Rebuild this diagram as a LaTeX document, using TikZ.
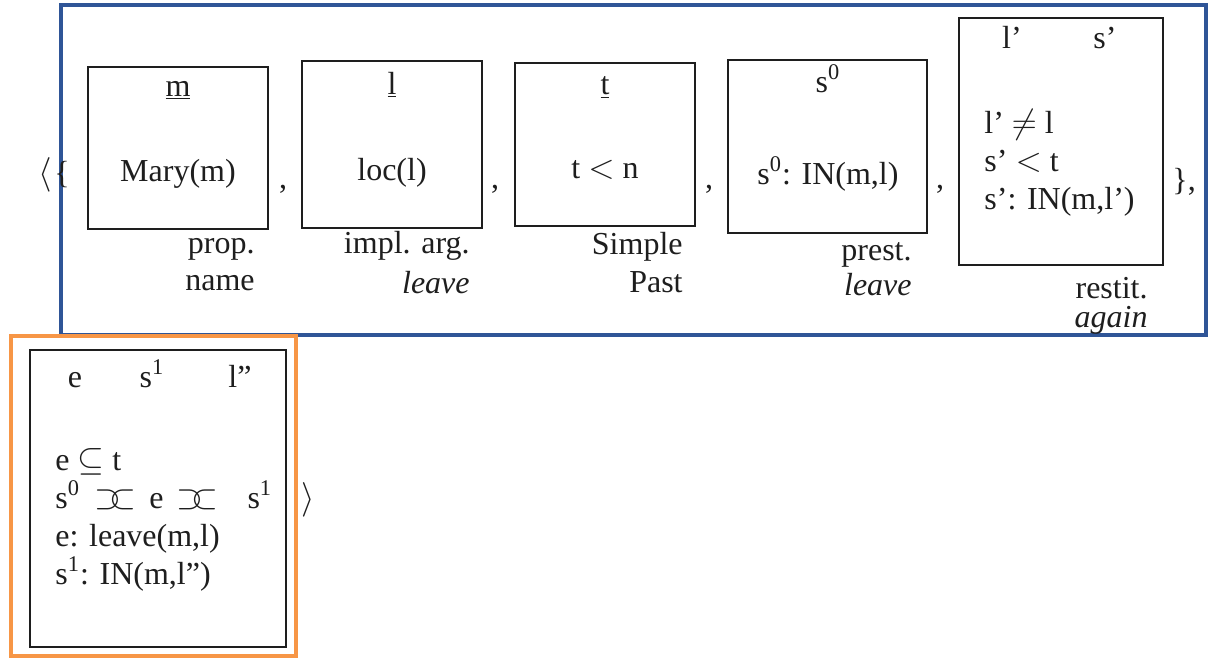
\documentclass[tikz,border=0pt]{standalone}
\usepackage{fontspec}
\setmainfont{Liberation Serif}
\usetikzlibrary{fit}
\definecolor{dblue}{RGB}{47,85,151}
\definecolor{dorange}{RGB}{247,150,70}
\definecolor{ink}{RGB}{30,30,30}
\newcommand{\abut}{\ensuremath{\supset\mkern-6mu\subset}}
\begin{document}
\begin{tikzpicture}[x=0.5pt,y=-0.5pt,
  font=\fontsize{16}{19}\selectfont, text=ink,
  box/.style={draw=ink, line width=0.9pt, inner sep=0pt},
  frame/.style={line width=2pt, inner sep=0pt},
  txt/.style={anchor=base, inner sep=0pt},
  lft/.style={anchor=base west, inner sep=0pt},
  rgt/.style={anchor=base east, inner sep=0pt}]
\useasboundingbox (0,0) rectangle (1209,660);
% frames
\node[frame, draw=dblue, fit={(61,5)(1206,335)}] (blue) {};
\node[frame, draw=dorange, fit={(11,336)(296,656)}] (orange) {};
% outer brackets
\node[txt] (lang) at (45,183) {$\langle$};
\node[txt] (lbr) at (62,183) {\{};
% box 1
\node[box, fit={(88,67)(268,229)}] (b1) {};
\node[txt] (b1v) at (178,96) {\underline{m}};
\node[txt] (b1c) at (178,181) {Mary(m)};
\node[rgt] (b1a) at (255,253) {prop.};
\node[rgt] (b1b) at (255,290) {name};
\node[txt] (c1) at (283,188) {,};
% box 2
\node[box, fit={(302,61)(482,228)}] (b2) {};
\node[txt] (b2v) at (392,94) {\underline{l}};
\node[txt] (b2c) at (392,180) {loc(l)};
\node[rgt] (b2a) at (470,253) {impl. arg.};
\node[rgt] (b2b) at (470,293) {\itshape leave};
\node[txt] (c2) at (495,188) {,};
% box 3
\node[box, fit={(515,63)(695,226)}] (b3) {};
\node[txt] (b3v) at (605,94) {\underline{t}};
\node[txt] (b3c) at (605,178) {t $<$ n};
\node[rgt] (b3a) at (683,254) {Simple};
\node[rgt] (b3b) at (683,292) {Past};
\node[txt] (c3) at (709,188) {,};
% box 4
\node[box, fit={(728,60)(927,233)}] (b4) {};
\node[txt] (b4v) at (828,92) {s\textsuperscript{0}};
\node[txt] (b4c) at (828,184) {s\textsuperscript{0}: IN(m,l)};
\node[rgt] (b4a) at (912,260) {prest.};
\node[rgt] (b4b) at (912,295) {\itshape leave};
\node[txt] (c4) at (940,188) {,};
% box 5
\node[box, fit={(959,18)(1163,265)}] (b5) {};
\node[txt] (b5v1) at (1012,48) {l’};
\node[txt] (b5v2) at (1105,48) {s’};
\node[lft] (b5l1) at (984,133) {l’ $\neq$ l};
\node[lft] (b5l2) at (984,171) {s’ $<$ t};
\node[lft] (b5l3) at (984,209) {s’: IN(m,l’)};
\node[rgt] (b5a) at (1148,298) {restit.};
\node[rgt] (b5b) at (1148,327) {\itshape again};
\node[lft] (rbr) at (1172,190) {\},};
% box 6
\node[box, fit={(30,350)(286,647)}] (b6) {};
\node[txt] (b6v1) at (75,387) {e};
\node[txt] (b6v2) at (152,387) {s\textsuperscript{1}};
\node[txt] (b6v3) at (240,387) {l”};
\node[lft] (b6l1) at (55,470) {e $\subseteq$ t};
\node[lft] (b6l2) at (55,508) {s\textsuperscript{0}\hspace{0.45em}\abut\hspace{0.4em}e\hspace{0.4em}\abut\hspace{0.9em}s\textsuperscript{1}};
\node[lft] (b6l3) at (55,546) {e: leave(m,l)};
\node[lft] (b6l4) at (55,584) {s\textsuperscript{1}: IN(m,l”)};
\node[txt] (rang) at (308,508) {$\rangle$};
\end{tikzpicture}
\end{document}
